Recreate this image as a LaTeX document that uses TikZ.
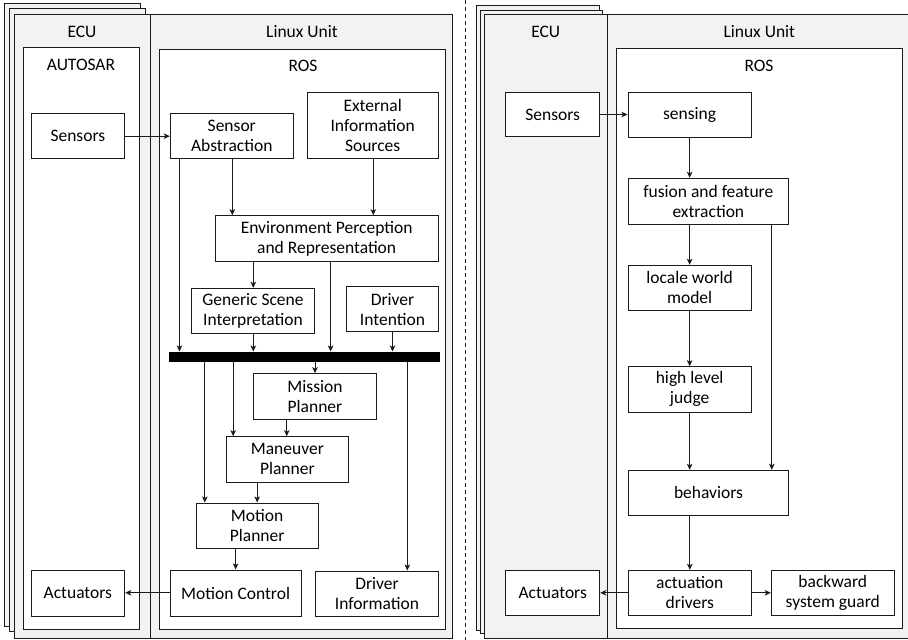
\documentclass[tikz,border=0pt]{standalone}
\usepackage{fontspec}
\setmainfont{Carlito}
\usetikzlibrary{arrows.meta}
\definecolor{framegray}{HTML}{F2F2F2}
\definecolor{linec}{HTML}{1A1A1A}
\begin{document}
\begin{tikzpicture}[x=1pt,y=-1pt,
  every node/.style={font=\fontsize{17.5}{20}\selectfont, text=black},
  box/.style={draw=linec, line width=1pt, fill=white, align=center, inner sep=0pt},
  frame/.style={draw=linec, line width=1pt, fill=framegray},
  inner/.style={draw=linec, line width=1pt, fill=white},
  arr/.style={draw=linec, line width=0.9pt, -{Stealth[length=6pt,width=5.5pt,inset=1.5pt]}},
  ln/.style={draw=linec, line width=1pt},
  lbl/.style={inner sep=0pt}]
\useasboundingbox (0,0) rectangle (908,640);
\fill[white] (0,0) rectangle (908,640);

% ---------------- left panel frames ----------------
\draw[frame] (4.7,3.3) rectangle (140,626);
\draw[frame] (9.3,8.7) rectangle (145.7,631);
\draw[frame] (14.7,14.7) rectangle (452.7,638.7);
\draw[ln] (150.7,14.7) -- (150.7,638.7);
\draw[inner] (23.3,47.7) rectangle (139,629.3);
\draw[inner] (159.3,49) rectangle (445.3,629.3);
\node[lbl] (ecuL) at (82,32) {ECU};
\node[lbl] (linL) at (302,32) {Linux Unit};
\node[lbl] (autosar) at (81,65) {AUTOSAR};
\node[lbl] (rosL) at (303,66) {ROS};

% ---------------- left panel boxes ----------------
\node[box, minimum width=93.7, minimum height=45] (sensL) at (77.85,136.2) {Sensors};
\node[box, minimum width=123, minimum height=45] (sa) at (231.8,136.2) {Sensor\\Abstraction};
\node[box, minimum width=130.7, minimum height=66.4] (ext) at (372.65,125.5) {External\\Information\\Sources};
\node[box, minimum width=223.3, minimum height=46] (ep) at (326.65,238.7) {Environment Perception\\and Representation};
\node[box, minimum width=122.6, minimum height=45] (gsi) at (253,310.8) {Generic Scene\\Interpretation};
\node[box, minimum width=91.6, minimum height=45] (di) at (392.5,309.2) {Driver\\Intention};
\node[draw=black, fill=black, inner sep=0pt, minimum width=270, minimum height=9] (bar) at (304.3,356.2) {};
\node[box, minimum width=122.6, minimum height=45.6] (mp) at (315,396.5) {Mission\\Planner};
\node[box, minimum width=122.7, minimum height=45.3] (man) at (287.35,459.35) {Maneuver\\Planner};
\node[box, minimum width=122.3, minimum height=45] (mop) at (257.15,525.5) {Motion\\Planner};
\node[box, minimum width=130.7, minimum height=46.7] (mc) at (235.65,593.35) {Motion Control};
\node[box, minimum width=122.6, minimum height=45] (dinf) at (377,593.5) {Driver\\Information};
\node[box, minimum width=93.7, minimum height=46] (actL) at (77.85,593) {Actuators};

% ---------------- left panel connectors ----------------
\draw[arr] (sensL.east) -- (sensL.east -| sa.west);
\draw[arr] ([xshift=0.5pt]sa.south) -- ([xshift=0.5pt]sa.south |- ep.north);
\draw[arr] ([xshift=0.65pt]ext.south) -- ([xshift=0.65pt]ext.south |- ep.north);
\draw[arr] ([xshift=9.7pt]sa.south west) -- ([xshift=9.7pt]sa.south west |- bar.north);
\draw[arr] ([xshift=0.3pt]gsi.north |- ep.south) -- ([xshift=0.3pt]gsi.north);
\draw[arr] ([xshift=0.3pt]gsi.south) -- ([xshift=0.3pt]gsi.south |- bar.north);
\draw[arr] ([xshift=4pt]ep.south) -- ([xshift=4pt]ep.south |- bar.north);
\draw[arr] (di.south) -- (di.south |- bar.north);
\draw[arr] (mp.north |- bar.south) -- (mp.north);
\draw[arr] ([xshift=7.7pt]man.north west |- bar.south) -- ([xshift=7.7pt]man.north west);
\draw[arr] ([xshift=-0.6pt]man.north |- mp.south) -- ([xshift=-0.6pt]man.north);
\draw[arr] ([xshift=9.3pt]mop.north west |- bar.south) -- ([xshift=9.3pt]mop.north west);
\draw[arr] (mop.north |- man.south) -- (mop.north);
\draw[arr] (mc.north |- mop.south) -- (mc.north);
\draw[arr] ([xshift=30.3pt]dinf.north |- bar.south) -- ([xshift=30.3pt]dinf.north);
\draw[arr] ([yshift=0.6pt]mc.west) -- ([yshift=0.6pt]mc.west -| actL.east);

% ---------------- divider ----------------
\coordinate (dtop) at (465,0);
\coordinate (dbot) at (465,640);
\draw[linec, line width=1pt, dash pattern=on 4pt off 3pt] (dtop) -- (dbot);

% ---------------- right panel frames ----------------
\draw[frame] (476.7,5) rectangle (599.3,630);
\draw[frame] (480.7,10) rectangle (602,633.3);
\draw[frame] (484.3,14.7) rectangle (912,638.7);
\draw[ln] (607.7,14.7) -- (607.7,638.7);
\draw[inner] (616,48.3) rectangle (902,628.7);
\node[lbl] (ecuR) at (545.7,32) {ECU};
\node[lbl] (linR) at (759.3,32) {Linux Unit};
\node[lbl] (rosR) at (759,66) {ROS};

% ---------------- right panel boxes ----------------
\node[box, minimum width=94, minimum height=44.4] (sensR) at (552.7,114.5) {Sensors};
\node[box, minimum width=123.3, minimum height=44.7] (sensing) at (689.65,114.65) {sensing};
\node[box, minimum width=160.7, minimum height=45.7] (fus) at (708.35,201.15) {fusion and feature\\extraction};
\node[box, minimum width=123.3, minimum height=45] (lwm) at (689.65,287.8) {locale world\\model};
\node[box, minimum width=123.3, minimum height=45.3] (hlj) at (689.65,389.35) {high level\\judge};
\node[box, minimum width=160.4, minimum height=45] (beh) at (708.5,492.8) {behaviors};
\node[box, minimum width=123, minimum height=45] (ad) at (689.8,592.8) {actuation\\drivers};
\node[box, minimum width=123, minimum height=45] (bsg) at (832.8,592.8) {backward\\system guard};
\node[box, minimum width=94, minimum height=45] (actR) at (552.7,592.8) {Actuators};

% ---------------- right panel connectors ----------------
\draw[arr] (sensR.east) -- (sensR.east -| sensing.west);
\draw[arr] (sensing.south) -- (sensing.south |- fus.north);
\draw[arr] (lwm.north |- fus.south) -- (lwm.north);
\draw[arr] (hlj.north |- lwm.south) -- (hlj.north);
\draw[arr] (hlj.south) -- (hlj.south |- beh.north);
\draw[arr] ([xshift=-17.4pt]fus.south east) -- ([xshift=-17.4pt]fus.south east |- beh.north);
\draw[arr] (ad.north |- beh.south) -- (ad.north);
\draw[arr] (ad.west) -- (ad.west -| actR.east);
\draw[arr] (ad.east) -- (ad.east -| bsg.west);
\end{tikzpicture}
\end{document}
